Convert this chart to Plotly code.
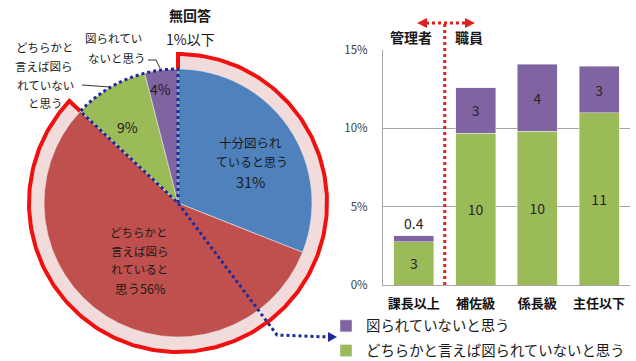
import numpy as np
import plotly.graph_objects as go

W, H = 636, 361

# ---------------- data ----------------
pie_labels = ["十分図られていると思う", "どちらかと言えば図られていると思う",
              "どちらかと言えば図られていないと思う", "図られていないと思う"]
pie_values = [31, 56, 9, 4]
pie_colors = ["#4F81BD", "#C0504D", "#9BBB59", "#8064A2"]

bar_categories = ["課長以上", "補佐級", "係長級", "主任以下"]
green_values = [2.75, 9.7, 9.8, 11.0]    # どちらかと言えば図られていないと思う
purple_values = [0.4, 2.9, 4.3, 2.95]    # 図られていないと思う
green_name = "どちらかと言えば図られていないと思う"
purple_name = "図られていないと思う"
ytick_values = [0, 5, 10, 15]
ytick_labels = ["0%", "5%", "10%", "15%"]

FONT = "Noto Sans CJK JP"
TXT = "#1a1a1a"

# pie geometry (pixels)
CX, CY, R = 178, 203, 134


def fmt(v):
    return f"{v:.0f}" if v >= 1 else f"{v:.1f}"


def pt(r, deg):
    t = np.radians(deg)
    return CX + r * np.sin(t), CY - r * np.cos(t)


fig = go.Figure()

# ---- pink / red ring around the "図られている" part (computed from pie values) ----
end_ang = sum(pie_values[:2]) / sum(pie_values) * 360
angs = np.linspace(0, end_ang, 240)
ox, oy = pt(147, angs)
ix, iy = pt(R - 2, angs[::-1])
fig.add_trace(go.Scatter(x=np.r_[ox, ix], y=np.r_[oy, iy], fill="toself",
                         fillcolor="#F2DCDB", line=dict(width=0), mode="lines",
                         xaxis="x2", yaxis="y2", showlegend=False, hoverinfo="skip"))
rx, ry = pt(149, angs)
sx, sy = pt(R, 0)
ex, ey = pt(R, end_ang)
fig.add_trace(go.Scatter(x=np.r_[sx, rx, ex], y=np.r_[sy, ry, ey], mode="lines",
                         line=dict(color="#F01010", width=4),
                         xaxis="x2", yaxis="y2", showlegend=False, hoverinfo="skip"))

# ---- pie ----
fig.add_trace(go.Pie(labels=pie_labels, values=pie_values, sort=False,
                     direction="clockwise", rotation=0,
                     marker=dict(colors=pie_colors, line=dict(color="#E8E8E8", width=0.6)),
                     textinfo="none", showlegend=False, hoverinfo="label+percent",
                     domain=dict(x=[(CX - R) / W, (CX + R) / W],
                                 y=[1 - (CY + R) / H, 1 - (CY - R) / H])))

# ---- bars ----
fig.add_trace(go.Bar(x=bar_categories, y=green_values, name=green_name,
                     marker=dict(color="#9BBB59"), text=[fmt(v) for v in green_values],
                     textposition="inside", insidetextanchor="middle", constraintext="none",
                     textfont=dict(family=FONT, size=14, color="#262626"),
                     legendrank=2, legendgroup="g", cliponaxis=False))
fig.add_trace(go.Bar(x=bar_categories, y=purple_values, name=purple_name,
                     marker=dict(color="#8064A2"), text=[fmt(v) for v in purple_values],
                     textposition=["outside", "inside", "inside", "inside"],
                     insidetextanchor="middle", constraintext="none",
                     textfont=dict(family=FONT, size=14, color="#262626"),
                     legendrank=1, legendgroup="p", cliponaxis=False))

shapes = []
# blue dotted outline around the "図られていない" part, extended to the bar chart
arc_angs = np.linspace(360, end_ang, 60)
axp, ayp = pt(R, arc_angs)
pts = [(CX, CY)] + list(zip(axp, ayp)) + [(CX, CY), (277, 335), (329, 337)]
path = "M " + " L ".join(f"{x:.1f},{y:.1f}" for x, y in pts)
shapes.append(dict(type="path", path=path, xref="x2", yref="y2",
                   line=dict(color="#1F2A9A", width=3, dash="dot")))
shapes.append(dict(type="path", path="M 328,332 L 337,337 L 328,342 Z", xref="x2", yref="y2",
                   fillcolor="#1F2A9A", line=dict(width=0)))
# leader lines
shapes.append(dict(type="path", path="M 82,85 L 110,87", xref="x2", yref="y2",
                   line=dict(color="#333333", width=1)))
shapes.append(dict(type="path", path="M 148,60 L 156,60 L 160,68", xref="x2", yref="y2",
                   line=dict(color="#333333", width=1)))
# red dotted separator between 管理者 and 職員
shapes.append(dict(type="line", x0=0.5, x1=0.5, y0=24, y1=285, xref="x", yref="y2",
                   line=dict(color="#E0201C", width=3, dash="dot")))
shapes.append(dict(type="line", x0=426, x1=466, y0=23, y1=23, xref="x2", yref="y2",
                   line=dict(color="#E0201C", width=3, dash="dot")))
shapes.append(dict(type="path", path="M 417,23 L 427,18 L 427,28 Z", xref="x2", yref="y2",
                   fillcolor="#E0201C", line=dict(width=0)))
shapes.append(dict(type="path", path="M 475,23 L 465,18 L 465,28 Z", xref="x2", yref="y2",
                   fillcolor="#E0201C", line=dict(width=0)))

# text labels (x, y, text, size, bold)
labels = [
    (190, 15, "無回答", 14, True), (190, 39, "1%以下", 14, False),
    (113, 38, "図られてい", 11.5, False), (117, 58, "ないと思う", 11.5, False),
    (45, 47, "どちらかと", 11.5, False), (44, 66, "言えば図ら", 11.5, False),
    (45, 85, "れていない", 11.5, False), (45, 103, "と思う", 11.5, False),
    (160, 89, "4%", 14, False), (127, 127, "9%", 14, False),
    (250, 142, "十分図られ", 12.5, False), (252, 161, "ていると思う", 12, False),
    (250, 181, "31%", 14.5, False),
    (139, 232, "どちらかと", 11.5, False), (140, 251, "言えば図ら", 11.5, False),
    (139, 269, "れていると", 11.5, False), (140, 288, "思う56%", 12.5, False),
    (411, 37, "管理者", 14, True), (469, 37, "職員", 14, True),
]
annotations = [dict(x=x, y=y, text=t, xref="x2", yref="y2", showarrow=False,
                    xanchor="center", yanchor="middle",
                    font=dict(family=FONT, size=s, color=TXT, weight="bold" if b else "normal"))
               for x, y, t, s, b in labels]

fig.update_layout(
    width=W, height=H, margin=dict(l=0, r=0, t=0, b=0, autoexpand=False),
    paper_bgcolor="white", plot_bgcolor="rgba(0,0,0,0)",
    barmode="stack", bargap=0.35,
    font=dict(family=FONT, color=TXT),
    shapes=shapes, annotations=annotations,
    xaxis=dict(domain=[383 / W, 630 / W], anchor="y", range=[-0.5, 3.5],
               showline=True, linecolor="#A6A6A6", linewidth=1, ticks="",
               tickfont=dict(family=FONT, size=13, color="#111111", weight="bold"),
               ticklabelstandoff=6, fixedrange=True),
    yaxis=dict(domain=[1 - 285 / H, 1 - 50 / H], anchor="x", range=[0, 15],
               tickvals=ytick_values, ticktext=ytick_labels,
               showgrid=True, gridcolor="#A6A6A6", gridwidth=1, zeroline=False,
               showline=True, linecolor="#A6A6A6", linewidth=1, ticks="",
               tickfont=dict(family=FONT, size=11.5, color="#404040"),
               ticklabelstandoff=12, fixedrange=True),
    xaxis2=dict(domain=[0, 1], anchor="y2", range=[0, W], visible=False, fixedrange=True),
    yaxis2=dict(domain=[0, 1], anchor="x2", range=[H, 0], visible=False, fixedrange=True),
    legend=dict(x=326 / W, y=1 - 310 / H, xanchor="left", yanchor="top",
                font=dict(family=FONT, size=14.4, color=TXT), bgcolor="rgba(0,0,0,0)",
                traceorder="grouped", tracegroupgap=3, itemwidth=30),
    showlegend=True,
)

fig.write_html("out.html")
